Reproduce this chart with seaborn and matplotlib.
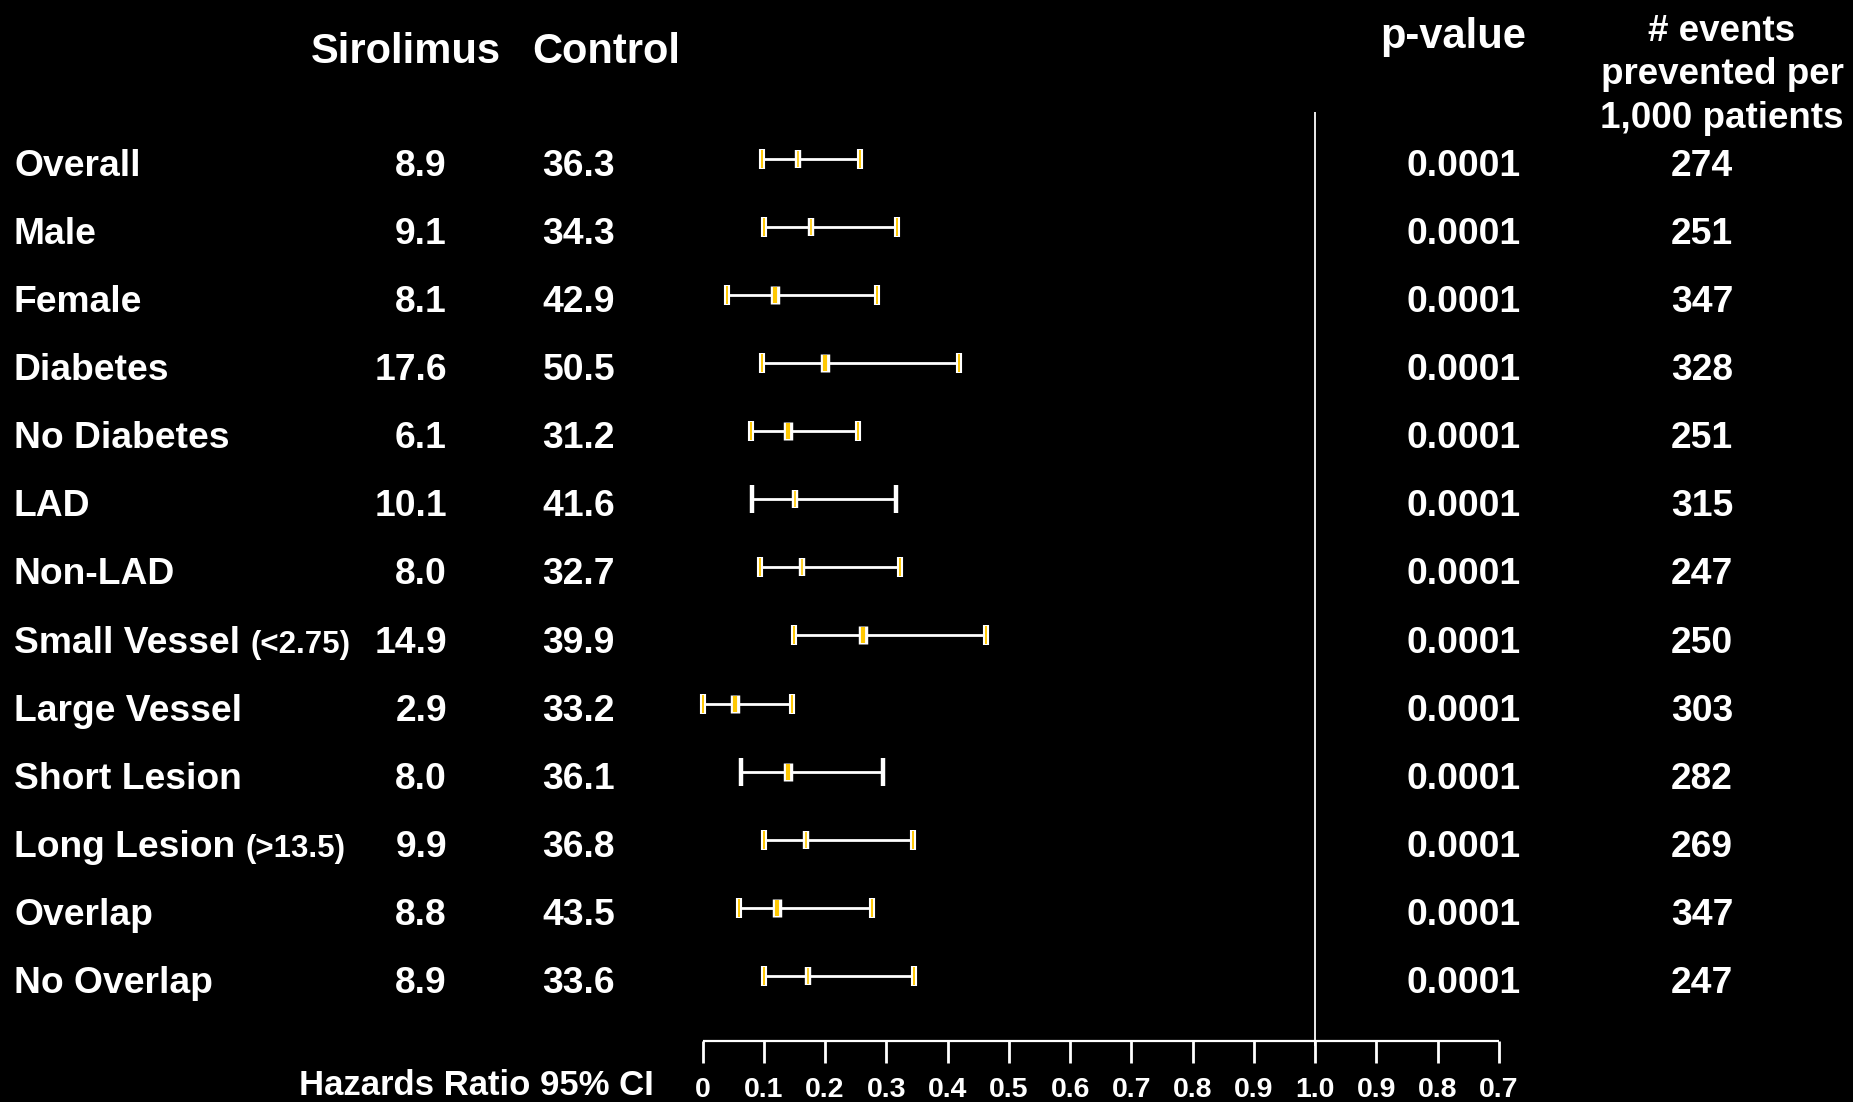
import matplotlib
matplotlib.use("Agg")
import matplotlib.pyplot as plt
from matplotlib import font_manager
import numpy as np
import pandas as pd
import seaborn as sns

# ---------------- data ----------------
subgroups = ["Overall", "Male", "Female", "Diabetes", "No Diabetes", "LAD", "Non-LAD",
             "Small Vessel", "Large Vessel", "Short Lesion", "Long Lesion", "Overlap", "No Overlap"]
subgroup_notes = ["", "", "", "", "", "", "", "(<2.75)", "", "", "(>13.5)", "", ""]
sirolimus = ["8.9", "9.1", "8.1", "17.6", "6.1", "10.1", "8.0", "14.9", "2.9", "8.0", "9.9", "8.8", "8.9"]
control = ["36.3", "34.3", "42.9", "50.5", "31.2", "41.6", "32.7", "39.9", "33.2", "36.1", "36.8", "43.5", "33.6"]
hr = [0.155, 0.177, 0.118, 0.200, 0.139, 0.151, 0.163, 0.262, 0.053, 0.139, 0.168, 0.122, 0.172]
ci_low = [0.097, 0.101, 0.040, 0.097, 0.079, 0.080, 0.094, 0.149, 0.000, 0.062, 0.101, 0.059, 0.101]
ci_high = [0.257, 0.318, 0.284, 0.419, 0.253, 0.316, 0.322, 0.462, 0.146, 0.295, 0.344, 0.277, 0.345]
p_values = ["0.0001"] * 13
events_prevented = [274, 251, 347, 328, 251, 315, 247, 250, 303, 282, 269, 347, 247]
tick_positions = [0.0, 0.1, 0.2, 0.3, 0.4, 0.5, 0.6, 0.7, 0.8, 0.9, 1.0, 1.1, 1.2, 1.3]
tick_labels = ["0", "0.1", "0.2", "0.3", "0.4", "0.5", "0.6", "0.7", "0.8", "0.9", "1.0", "0.9", "0.8", "0.7"]

# style sets (appearance only)
plain_cap_rows = {"LAD", "Short Lesion"}
thick_mid_rows = {"Female", "Diabetes", "No Diabetes", "Small Vessel", "Large Vessel",
                  "Short Lesion", "Overlap"}

df = pd.DataFrame({"group": subgroups, "hr": hr, "lo": ci_low, "hi": ci_high})
df["row"] = np.arange(len(df))
df["ybar"] = df["row"] - 0.06

# ---------------- figure ----------------
sns.set_theme(style="white")
plt.rcParams["font.family"] = ["Liberation Sans", "DejaVu Sans"]
plt.rcParams["font.weight"] = "bold"

installed = {f.name for f in font_manager.fontManager.ttflist}
if "Liberation Sans Narrow" in installed:
    tick_family = ["Liberation Sans Narrow", "Liberation Sans", "DejaVu Sans"]
    tick_size = 23
else:
    tick_family = ["Liberation Sans", "DejaVu Sans"]
    tick_size = 20.5

W, H = 1853, 1102
fig = plt.figure(figsize=(W / 100, H / 100), dpi=100, facecolor="black")
ax = fig.add_axes([0, 0, 1, 1])
ax.set_facecolor("black")

X0, XS = 702.6, 612.5      # pixel of 0 and pixels per unit
Y0, YS = 163.0, 68.08      # pixel of first row and pixels per row


def fx(px):
    return (px - X0) / XS


def fy(py):
    return (py - Y0) / YS


ax.set_xlim(fx(0), fx(W))
ax.set_ylim(fy(H), fy(0))
ax.axis("off")

WHITE = "white"
YELLOW = "#FFC800"

# CI lines
ax.hlines(df["ybar"], df["lo"], df["hi"], color=WHITE, lw=2.0, zorder=2)

# caps
ends = pd.concat([df[["group", "lo", "ybar"]].rename(columns={"lo": "x"}),
                  df[["group", "hi", "ybar"]].rename(columns={"hi": "x"})])
fancy = ends[~ends["group"].isin(plain_cap_rows)]
plain = ends[ends["group"].isin(plain_cap_rows)]
sns.scatterplot(data=fancy, x="x", y="ybar", marker="|", s=225, linewidth=4.4,
                color=WHITE, ax=ax, zorder=3, legend=False)
sns.scatterplot(data=fancy, x="x", y="ybar", marker="|", s=150, linewidth=1.4,
                color=YELLOW, ax=ax, zorder=4, legend=False)
sns.scatterplot(data=plain, x="x", y="ybar", marker="|", s=380, linewidth=3.2,
                color=WHITE, ax=ax, zorder=3, legend=False)

# point estimates
thick = df[df["group"].isin(thick_mid_rows)]
thin = df[~df["group"].isin(thick_mid_rows)]
sns.scatterplot(data=thick, x="hr", y="ybar", marker="|", s=180, linewidth=6.8,
                color=WHITE, ax=ax, zorder=5, legend=False)
sns.scatterplot(data=thick, x="hr", y="ybar", marker="|", s=120, linewidth=3.0,
                color=YELLOW, ax=ax, zorder=6, legend=False)
sns.scatterplot(data=thin, x="hr", y="ybar", marker="|", s=180, linewidth=4.6,
                color=WHITE, ax=ax, zorder=5, legend=False)
sns.scatterplot(data=thin, x="hr", y="ybar", marker="|", s=120, linewidth=1.2,
                color=YELLOW, ax=ax, zorder=6, legend=False)

# reference line at 1.0
ax.vlines(1.0, fy(112), fy(1046), color=WHITE, lw=1.3, zorder=1)

# bottom axis
ax.hlines(fy(1041), tick_positions[0], tick_positions[-1], color=WHITE, lw=1.6)
ax.vlines(tick_positions, fy(1041), fy(1063), color=WHITE, lw=2.0)
for tp, tl in zip(tick_positions, tick_labels):
    ax.text(tp, fy(1097), tl, color=WHITE, fontsize=tick_size, fontweight="bold",
            family=tick_family, ha="center", va="baseline")
ax.text(fx(654), fy(1095), "Hazards Ratio 95% CI", color=WHITE, fontsize=25,
        fontweight="bold", ha="right", va="baseline")

# headers
ax.text(fx(406), fy(63), "Sirolimus", color=WHITE, fontsize=30, fontweight="bold",
        ha="center", va="baseline")
ax.text(fx(606), fy(63), "Control", color=WHITE, fontsize=30, fontweight="bold",
        ha="center", va="baseline")
ax.text(fx(1453), fy(48), "p-value", color=WHITE, fontsize=30, fontweight="bold",
        ha="center", va="baseline")
for txt, base in zip(["# events", "prevented per", "1,000 patients"], [41, 84, 128]):
    ax.text(fx(1722), fy(base), txt, color=WHITE, fontsize=26.5, fontweight="bold",
            ha="center", va="baseline")

# rows
BASE = 13.0 / YS
fig.canvas.draw()
renderer = fig.canvas.get_renderer()
for i, g in enumerate(subgroups):
    yb = i + BASE
    t = ax.text(fx(14), yb, g, color=WHITE, fontsize=26.8, fontweight="bold",
                ha="left", va="baseline")
    if subgroup_notes[i]:
        bb = t.get_window_extent(renderer=renderer)
        xr = ax.transData.inverted().transform((bb.x1 + 10, 0))[0]
        ax.text(xr, yb, subgroup_notes[i], color=WHITE, fontsize=22.5, fontweight="bold",
                ha="left", va="baseline")
    ax.text(fx(447), yb, sirolimus[i], color=WHITE, fontsize=26.8, fontweight="bold",
            ha="right", va="baseline")
    ax.text(fx(615), yb, control[i], color=WHITE, fontsize=26.8, fontweight="bold",
            ha="right", va="baseline")
    ax.text(fx(1464), yb, p_values[i], color=WHITE, fontsize=26.8, fontweight="bold",
            ha="center", va="baseline")
    ax.text(fx(1702), yb, str(events_prevented[i]), color=WHITE, fontsize=26.8,
            fontweight="bold", ha="center", va="baseline")

fig.savefig("out.png", dpi=100, facecolor="black")
